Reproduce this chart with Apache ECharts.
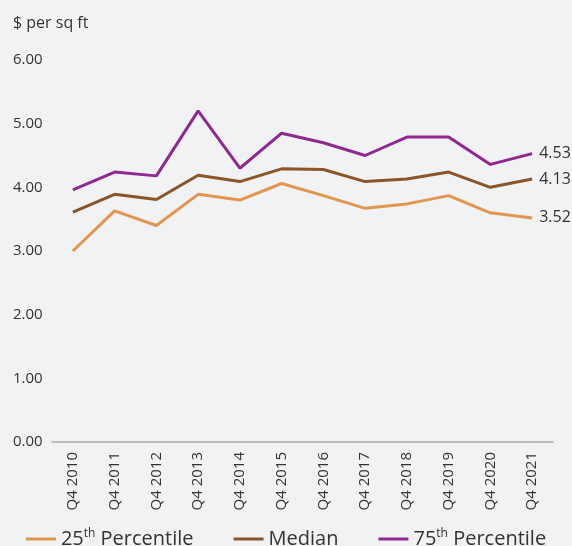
<!DOCTYPE html>
<html>
<head>
<meta charset="utf-8">
<script src="https://cdn.jsdelivr.net/npm/echarts@6/dist/echarts.min.js"></script>
<style>
  html, body { margin: 0; padding: 0; background: #f1f2f4; }
  #chart { width: 572px; height: 546px; }
</style>
</head>
<body>
<div id="chart"></div>
<script>
// Office rent per square foot, Q4 readings
const categories = ['Q4 2010', 'Q4 2011', 'Q4 2012', 'Q4 2013', 'Q4 2014', 'Q4 2015',
                    'Q4 2016', 'Q4 2017', 'Q4 2018', 'Q4 2019', 'Q4 2020', 'Q4 2021'];
const p25    = [3.00, 3.63, 3.40, 3.89, 3.80, 4.06, 3.87, 3.67, 3.74, 3.87, 3.60, 3.52];
const median = [3.61, 3.89, 3.81, 4.19, 4.09, 4.29, 4.28, 4.09, 4.13, 4.24, 4.00, 4.13];
const p75    = [3.96, 4.24, 4.18, 5.20, 4.30, 4.85, 4.70, 4.50, 4.79, 4.79, 4.36, 4.53];
const yTicks = ['0.00', '1.00', '2.00', '3.00', '4.00', '5.00', '6.00'];
const unitLabel = '$ per sq ft';

const FONT = '"Open Sans", "Noto Sans", sans-serif';
const TEXT = '#333333';

function lineSeries(name, data, color) {
  return {
    name: name,
    type: 'line',
    data: data,
    symbol: 'none',
    lineStyle: { color: color, width: 3 },
    itemStyle: { color: color },
    endLabel: {
      show: true,
      distance: 7,
      color: TEXT,
      fontFamily: FONT,
      fontSize: 16,
      formatter: p => Number(p.value).toFixed(2)
    },
    z: 3
  };
}

const chart = echarts.init(document.getElementById('chart'), null, { renderer: 'canvas' });
chart.setOption({
  backgroundColor: '#f1f2f4',
  animation: false,
  textStyle: { fontFamily: FONT, color: TEXT },
  grid: { left: 52, right: 19, top: 60, bottom: 104, containLabel: false },
  graphic: [{
    type: 'text',
    left: 13,
    top: 15,
    style: { text: unitLabel, fill: TEXT, font: '16px ' + FONT }
  }],
  legend: {
    left: 'center',
    bottom: -8,
    icon: 'rect',
    itemWidth: 30,
    itemHeight: 3,
    itemGap: 40,
    data: ['25th Percentile', 'Median', '75th Percentile'],
    formatter: name => name.replace(/(\d+)th/, '$1{sup|th}'),
    textStyle: {
      fontFamily: FONT,
      fontSize: 20,
      color: TEXT,
      rich: {
        sup: { fontSize: 12, fontFamily: FONT, color: TEXT, padding: [0, 0, 10, 0] }
      }
    }
  },
  xAxis: {
    type: 'category',
    data: categories,
    boundaryGap: true,
    axisLine: { show: true, lineStyle: { color: '#bdbdbd', width: 2 } },
    axisTick: { show: false },
    axisLabel: {
      rotate: 90,
      margin: 10,
      fontSize: 15,
      fontFamily: FONT,
      color: TEXT
    },
    splitLine: { show: false }
  },
  yAxis: {
    type: 'value',
    min: 0,
    max: 6,
    interval: 1,
    axisLine: { show: false },
    axisTick: { show: false },
    splitLine: { show: false },
    axisLabel: {
      align: 'left',
      margin: 39,
      fontSize: 15,
      fontFamily: FONT,
      color: TEXT,
      formatter: v => yTicks[Math.round(v)]
    }
  },
  series: [
    lineSeries('25th Percentile', p25, '#e0964f'),
    lineSeries('Median', median, '#8c5527'),
    lineSeries('75th Percentile', p75, '#8f2890')
  ]
});
</script>
</body>
</html>
